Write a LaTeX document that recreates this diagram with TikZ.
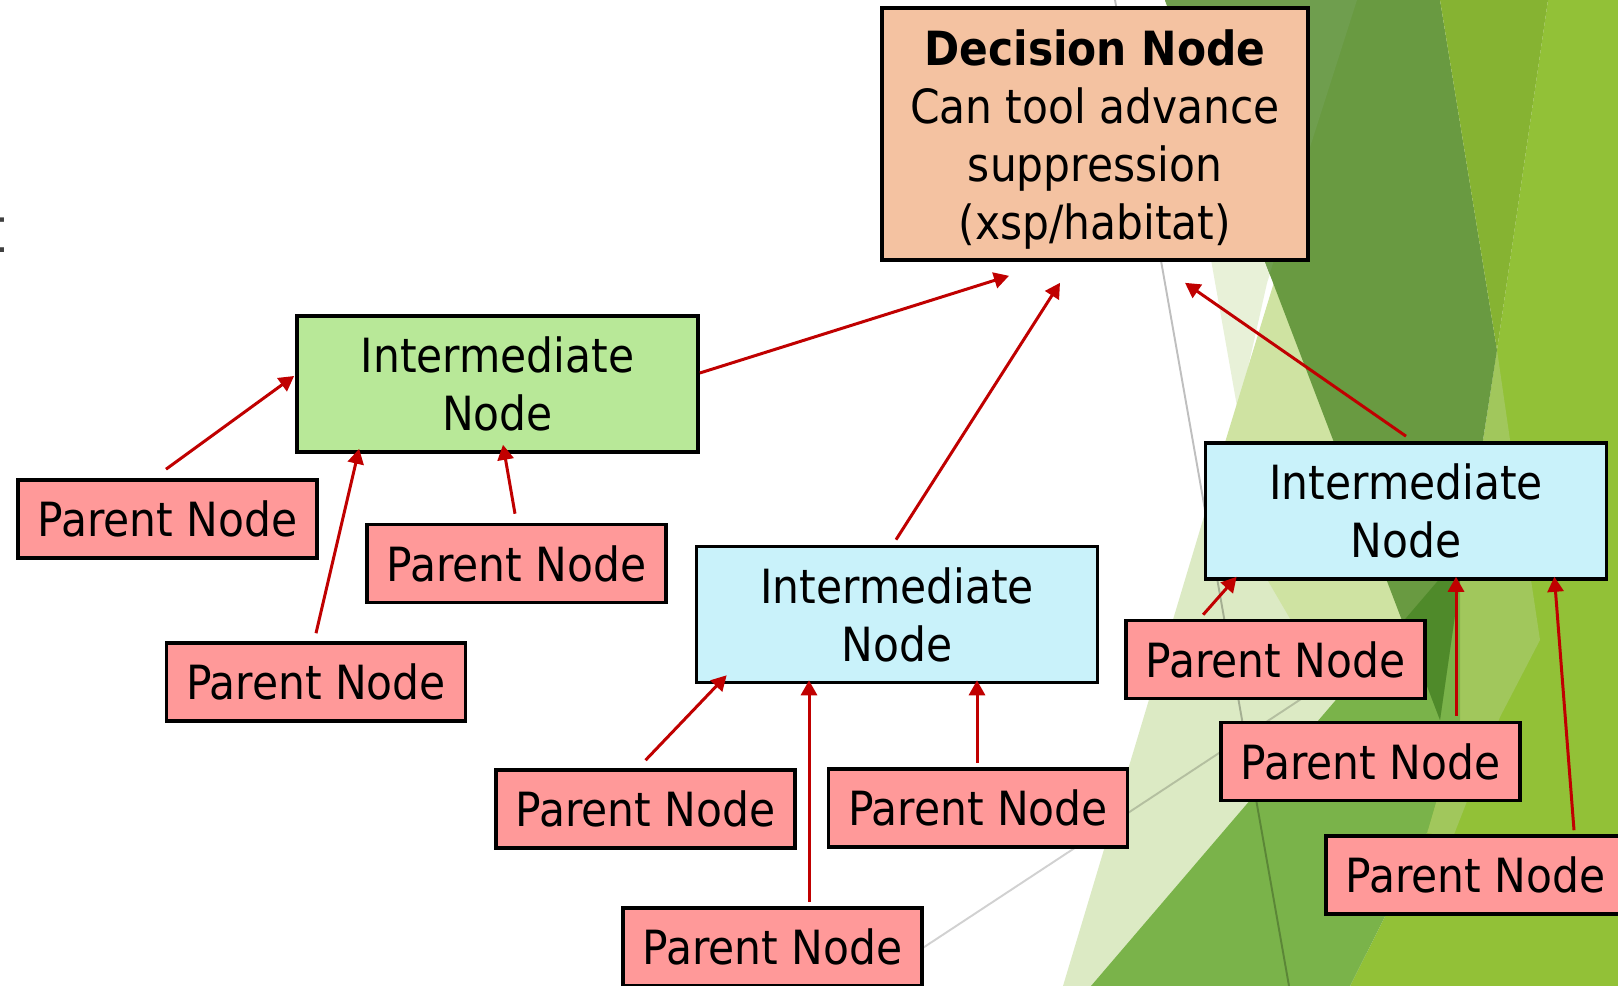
\documentclass[tikz,border=0pt]{standalone}
\usepackage{fontspec}
\setmainfont{DejaVu Sans Condensed}
\usetikzlibrary{arrows.meta, calc, positioning}

\definecolor{decPeach}  {RGB}{244,194,161}
\definecolor{midGreen}  {RGB}{184,232,152}
\definecolor{midCyan}   {RGB}{201,242,250}
\definecolor{parPink}   {RGB}{255,153,153}
\definecolor{linkRed}   {RGB}{192,  0,  0}
\definecolor{titleGray} {RGB}{ 64, 64, 64}
% background facets
\definecolor{bgPale}    {RGB}{232,241,216}
\definecolor{bgLight}   {RGB}{220,234,196}
\definecolor{bgLightMid}{RGB}{207,227,162}
\definecolor{bgFern}    {RGB}{122,179, 74}
\definecolor{bgForest}  {RGB}{105,154, 65}
\definecolor{bgForestLt}{RGB}{111,158, 78}
\definecolor{bgForestDk}{RGB}{ 79,138, 42}
\definecolor{bgOlive}   {RGB}{134,179, 50}
\definecolor{bgLime}    {RGB}{146,193, 55}
\definecolor{bgLimeLt}  {RGB}{161,199, 92}

\newcommand{\boxfont}{\fontsize{13.4pt}{16.5pt}\selectfont}

\begin{document}
\begin{tikzpicture}[
  x=0.01cm, y=-0.01cm,
  box/.style={draw=black, line width=1pt, align=center, inner sep=0pt,
    font=\boxfont},
  decbox/.style={box, fill=decPeach, minimum width=4.26cm, minimum height=2.52cm},
  midbox/.style={box, minimum width=4.01cm, minimum height=1.36cm},
  parbox/.style={box, fill=parPink, minimum width=2.99cm, minimum height=0.78cm},
  link/.style={-{Triangle[length=0.15cm, width=0.16cm]}, line width=0.85pt,
    draw=linkRed, fill=linkRed},
  hairline/.style={draw=black, draw opacity=0.25, line width=0.55pt},
]
\useasboundingbox (0,0) rectangle (1618,986);
\clip (0,0) rectangle (1618,986);

%% ── Background facets ───────────────────────────────────────────────────────
\fill[white] (0,0) rectangle (1618,986);
\fill[bgLime]   (1548,0) -- (1618,0) -- (1618,986) -- (1350,986) -- (1427,833)
  -- (1497,350) -- cycle;
\fill[bgLimeLt] (1497,350) -- (1510,440) -- (1540,640) -- (1500,717) -- (1453,837)
  -- (1427,833) -- (1460,720) -- (1460,580) -- (1483,440) -- cycle;
\fill[bgPale]   (1165,0) -- (1357,0) -- (1267,283) -- (1238,412) -- cycle;
\fill[bgLight]  (1063,986) -- (1290,230) -- (1440,620) -- (1350,986) -- cycle;
\fill[bgLightMid] (1212,485) -- (1290,230) -- (1440,620) -- (1390,790) -- cycle;
\fill[bgFern]   (1091,986) -- (1460,555) -- (1460,720) -- (1427,833) -- (1350,986) -- cycle;
\fill[bgForest] (1165,0) -- (1440,0) -- (1497,350) -- (1483,440) -- (1460,580)
  -- (1440,720) -- cycle;
\begin{scope}
  \clip (1165,0) -- (1440,0) -- (1497,350) -- (1483,440) -- (1460,580)
    -- (1440,720) -- cycle;
  \fill[bgForestLt] (1165,0) -- (1357,0) -- (1231,395) -- cycle;
  \fill[bgForestDk] (1091,986) -- (1460,555) -- (1460,720) -- (1427,833)
    -- (1350,986) -- cycle;
\end{scope}
\fill[bgOlive]  (1440,0) -- (1548,0) -- (1497,350) -- cycle;

\draw[hairline] (1115,0) -- (1289,986);
\draw[hairline, draw opacity=0.18] (865,986) -- (1330,680);

%% ── Title fragment at the left edge ─────────────────────────────────────────
\node[anchor=base east, inner sep=0pt, text=titleGray,
      font=\fontsize{18pt}{22pt}\selectfont] (TTL) at (7,253) {t};

%% ── Decision node ───────────────────────────────────────────────────────────
\node[decbox] (DEC) at (1095,134)
  {\rule{0pt}{0.47cm}\textbf{Decision Node}\\Can tool advance\\suppression\\(xsp/habitat)};

%% ── Intermediate nodes ──────────────────────────────────────────────────────
\node[midbox, fill=midGreen] (IN1) at (497.5,384) {Intermediate\\Node};
\node[midbox, fill=midCyan]  (IN2) at (897,614.5) {Intermediate\\Node};
\node[midbox, fill=midCyan]  (IN3) at (1406,511)  {Intermediate\\Node};

%% ── Parent nodes ────────────────────────────────────────────────────────────
\node[parbox] (P1) at (167.5,519)  {Parent Node};
\node[parbox] (P2) at (516.5,563.5) {Parent Node};
\node[parbox] (P3) at (316,682)    {Parent Node};
\node[parbox] (P4) at (645.5,809)  {Parent Node};
\node[parbox] (P5) at (978,808)    {Parent Node};
\node[parbox] (P6) at (772.5,947)  {Parent Node};
\node[parbox] (P7) at (1275.5,659.5) {Parent Node};
\node[parbox] (P8) at (1370.5,761.5) {Parent Node};
\node[parbox] (P9) at (1475.5,875) {Parent Node};

%% ── Links into the decision node ────────────────────────────────────────────
\draw[link] ($(IN1.east)+(0,-11)$)  -- ($(DEC.south)+(-86,14)$);
\draw[link] ($(IN2.north)+(-1,-5)$) -- ($(DEC.south)+(-35,21)$);
\draw[link] ($(IN3.north)+(0,-5)$)  -- ($(DEC.south)+(90,21)$);

%% ── Links from parents ──────────────────────────────────────────────────────
\draw[link] ($(P1.north)+(-1.5,-9)$) -- ($(IN1.west)+(-1,-8)$);
\draw[link] ($(P3.north)+(0,-8)$)    -- ($(IN1.south west)+(64,-5)$);
\draw[link] ($(P2.north)+(-1.5,-9)$) -- ($(IN1.south)+(5.5,-9)$);

\draw[link] ($(P4.north)+(0,-8)$)    -- ($(IN2.south west)+(32,-9)$);
\draw[link] ($(P6.north)+(36.5,-4)$) -- ($(IN2.south)+(-88,-4)$);
\draw[link] ($(P5.north)+(-1,-4)$)   -- ($(IN2.south)+(80,-4)$);

\draw[link] ($(P7.north west)+(79,-4)$) -- ($(IN3.south west)+(33,-4)$);
\draw[link] ($(P8.north)+(85.5,-5)$)    -- ($(IN3.south)+(50,-4)$);
\draw[link] ($(P9.north)+(98.5,-4)$)    -- ($(IN3.south east)+(-54,-4)$);

\end{tikzpicture}
\end{document}
